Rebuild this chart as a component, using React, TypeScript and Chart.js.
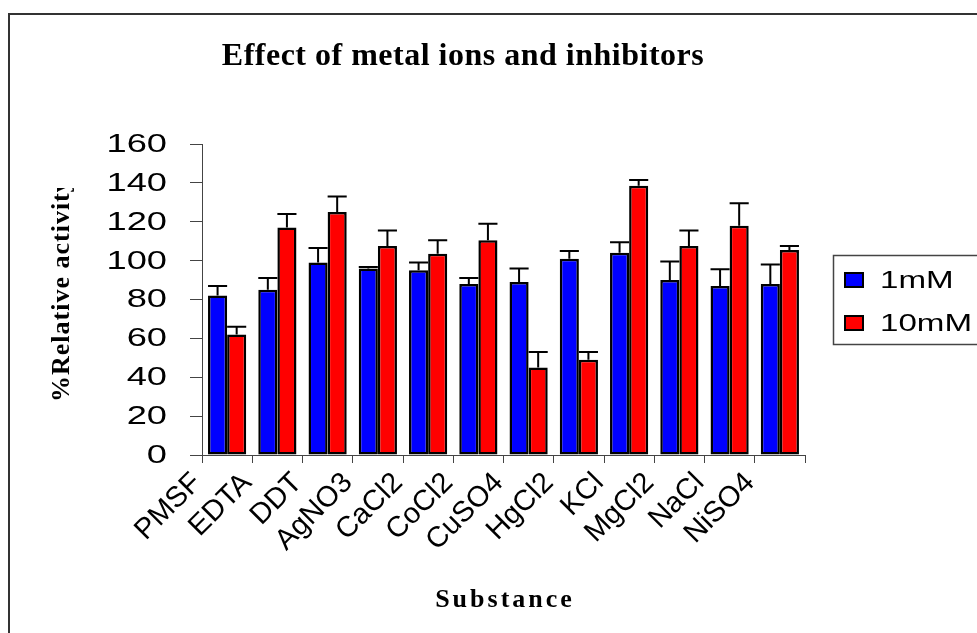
import React, { useEffect, useRef } from "react";
import { Chart, registerables } from "chart.js";

Chart.register(...registerables);

const categories = ["PMSF", "EDTA", "DDT", "AgNO3", "CaCl2", "CoCl2", "CuSO4", "HgCl2", "KCl", "MgCl2", "NaCl", "NiSO4"];
const seriesLabels = ["1mM", "10mM"];
const values1mM = [82, 85, 99, 96, 95, 88, 89, 101, 104, 90, 87, 88];
const errors1mM = [5, 6, 7.5, 0.7, 4, 3, 7, 4, 5.5, 9.5, 8.5, 10];
const values10mM = [62, 117, 125, 107.5, 103.5, 110.5, 45, 49, 138.5, 107.5, 118, 105.5];
const errors10mM = [4, 7, 8, 8, 7, 8.5, 8, 4, 3, 8, 11.5, 2];
const yMin = 0;
const yMax = 160;
const yStep = 20;
const chartTitle = "Effect of metal ions and inhibitors";
const xTitle = "Substance";
const yTitle = "%Relative activity";

const SANS = "'Liberation Sans', Arial, sans-serif";
const SERIF = "'Liberation Serif', 'Times New Roman', serif";

const errorBarPlugin = {
  id: "errorBars",
  afterDatasetsDraw(chart: any) {
    const ctx = chart.ctx;
    const y = chart.scales.y;
    ctx.save();
    ctx.strokeStyle = "#000";
    ctx.lineWidth = 2;
    chart.data.datasets.forEach((ds: any, di: number) => {
      const meta = chart.getDatasetMeta(di);
      meta.data.forEach((bar: any, i: number) => {
        const v = ds.data[i];
        const e = ds.errors[i];
        const top = y.getPixelForValue(v + e);
        const w = bar.width;
        ctx.beginPath();
        ctx.moveTo(bar.x, bar.y);
        ctx.lineTo(bar.x, top);
        ctx.moveTo(bar.x - w / 2, top);
        ctx.lineTo(bar.x + w / 2, top);
        ctx.stroke();
      });
    });
    ctx.restore();
  },
};

const decorPlugin = {
  id: "decor",
  afterDraw(chart: any) {
    const ctx = chart.ctx;
    ctx.save();
    // outer frame
    ctx.strokeStyle = "#333";
    ctx.lineWidth = 2;
    ctx.strokeRect(9, 14, 1400, 1400);

    ctx.fillStyle = "#000";
    // title
    ctx.font = `bold 32px ${SERIF}`;
    ctx.textAlign = "center";
    ctx.textBaseline = "alphabetic";
    (ctx as any).letterSpacing = "0.5px";
    ctx.fillText(chartTitle, 463, 65);

    // x title
    ctx.font = `bold 26px ${SERIF}`;
    (ctx as any).letterSpacing = "3px";
    ctx.fillText(xTitle, 505, 607);

    // y title (clipped at top like the reference)
    ctx.save();
    ctx.beginPath();
    ctx.rect(0, 188, 190, 300);
    ctx.clip();
    ctx.translate(69, 402);
    ctx.rotate(-Math.PI / 2);
    ctx.font = `bold 26px ${SERIF}`;
    (ctx as any).letterSpacing = "1px";
    ctx.textAlign = "left";
    ctx.textBaseline = "alphabetic";
    ctx.fillText(yTitle, 0, 0);
    ctx.restore();

    (ctx as any).letterSpacing = "0px";
    // y tick labels (wide sans)
    const ys = chart.scales.y;
    ctx.font = `25px ${SANS}`;
    ys.ticks.forEach((t: any) => {
      const py = ys.getPixelForValue(t.value);
      ctx.save();
      ctx.translate(167, py + 1);
      ctx.scale(1.45, 1);
      ctx.textAlign = "right";
      ctx.textBaseline = "middle";
      ctx.fillText(String(t.value), 0, 0);
      ctx.restore();
    });

    // legend
    ctx.strokeStyle = "#444";
    ctx.lineWidth = 1.5;
    ctx.strokeRect(833.5, 255.5, 300, 89);
    const rows = [280, 323];
    chart.data.datasets.forEach((ds: any, i: number) => {
      const cy = rows[i];
      ctx.fillStyle = ds.backgroundColor;
      ctx.fillRect(845, cy - 7, 18, 14);
      ctx.strokeStyle = "#000";
      ctx.lineWidth = 2;
      ctx.strokeRect(845, cy - 7, 18, 14);
      ctx.save();
      ctx.fillStyle = "#000";
      ctx.font = `24px ${SANS}`;
      ctx.translate(880, cy + 1);
      ctx.scale(1.38, 1);
      ctx.textAlign = "left";
      ctx.textBaseline = "middle";
      ctx.fillText(ds.label, 0, 0);
      ctx.restore();
    });
    ctx.restore();
  },
};

export default function App() {
  const ref = useRef<HTMLCanvasElement | null>(null);
  useEffect(() => {
    if (!ref.current) return;
    const chart = new Chart(ref.current, {
      type: "bar",
      data: {
        labels: categories,
        datasets: [
          {
            label: seriesLabels[0],
            data: values1mM,
            errors: errors1mM,
            backgroundColor: "#0000FF",
            borderColor: "#000",
            borderWidth: 2.5,
            borderSkipped: false,
          } as any,
          {
            label: seriesLabels[1],
            data: values10mM,
            errors: errors10mM,
            backgroundColor: "#FF0000",
            borderColor: "#000",
            borderWidth: 2.5,
            borderSkipped: false,
          } as any,
        ],
      },
      options: {
        animation: false,
        responsive: false,
        layout: { padding: { top: 144, right: 172, left: 0, bottom: 0 } },
        datasets: { bar: { categoryPercentage: 0.76, barPercentage: 1 } },
        plugins: {
          legend: { display: false },
          title: { display: false },
          tooltip: { enabled: false },
        },
        scales: {
          x: {
            grid: { display: true, drawOnChartArea: false, drawTicks: true, tickLength: 8, color: "#444", offset: true },
            border: { color: "#444", width: 1 },
            ticks: {
              minRotation: 45,
              maxRotation: 45,
              autoSkip: false,
              color: "#000",
              font: { family: SANS, size: 29 },
              labelOffset: -30,
              padding: 3,
            },
            afterFit: (s: any) => {
              s.height = 178;
            },
          },
          y: {
            min: yMin,
            max: yMax,
            ticks: { stepSize: yStep, display: false },
            grid: { display: true, drawOnChartArea: false, drawTicks: true, tickLength: 12, color: "#444" },
            border: { color: "#444", width: 1 },
            afterFit: (s: any) => {
              s.width = 202;
            },
          },
        },
      } as any,
      plugins: [errorBarPlugin, decorPlugin],
    });
    return () => chart.destroy();
  }, []);
  return (
    <div style={{ position: "absolute", left: 0, top: 0, width: 977, height: 633 }}>
      <canvas ref={ref} width={977} height={633} />
    </div>
  );
}
